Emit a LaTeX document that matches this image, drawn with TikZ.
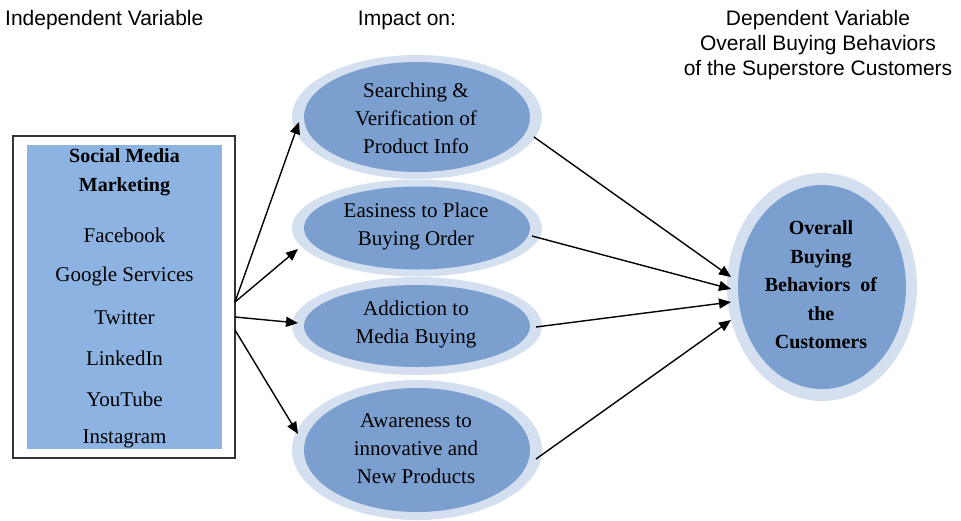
\documentclass[tikz,border=0pt]{standalone}
\usepackage{fontspec}
\setmainfont{Liberation Serif}
\newfontfamily\hdrfont{Liberation Sans}
\usetikzlibrary{shapes.geometric,arrows.meta}
\definecolor{ringc}{HTML}{D4DFEF}
\definecolor{corec}{HTML}{7BA0CF}
\definecolor{listc}{HTML}{8DB3E2}
\begin{document}
\begin{tikzpicture}[x=1pt,y=-1pt,
  ring/.style={ellipse, fill=ringc, inner sep=0},
  core/.style={ellipse, fill=corec, inner sep=0},
  txt/.style={inner sep=0, align=center, font=\fontsize{21}{28}\selectfont},
  btxt/.style={inner sep=0, align=center, font=\bfseries\fontsize{20}{28.5}\selectfont},
  hdr/.style={inner sep=0, align=center, font=\hdrfont\fontsize{21}{25}\selectfont},
  arr/.style={-{Triangle[length=12pt,width=10pt]}, line width=1.4pt}]
\useasboundingbox (0,0) rectangle (961,520);
% headers
\node[hdr, anchor=west] (h1) at (5,20) {Independent Variable};
\node[hdr] (h2) at (407,20) {Impact on:};
\node[hdr] (h3) at (818,45) {Dependent Variable\\Overall Buying Behaviors\\of the Superstore Customers};
% left box
\node[draw=black!80, line width=1.5pt, fill=white, minimum width=222, minimum height=322, inner sep=0] (box) at (124,297) {};
\node[fill=listc, minimum width=195, minimum height=304, inner sep=0] (list) at (124.5,297) {};
\node[btxt, font=\bfseries\fontsize{20}{29}\selectfont] (smm) at (124.5,172) {Social Media\\Marketing};
\node[txt] (fb) at (124.5,235) {Facebook};
\node[txt] (gs) at (124.5,276) {Google Services};
\node[txt] (tw) at (124.5,318) {Twitter};
\node[txt] (li) at (124.5,358) {LinkedIn};
\node[txt] (yt) at (124.5,399) {YouTube};
\node[txt] (ig) at (124.5,439) {Instagram};
% middle ellipses
\node[ring, minimum width=250, minimum height=124] (o1) at (417,117) {};
\node[core, minimum width=226, minimum height=110] (c1) at (417,117) {};
\node[ring, minimum width=250, minimum height=97] (o2) at (417,228) {};
\node[core, minimum width=226, minimum height=83] (c2) at (417,228) {};
\node[ring, minimum width=250, minimum height=98] (o3) at (417,326) {};
\node[core, minimum width=226, minimum height=82] (c3) at (417,326) {};
\node[ring, minimum width=250, minimum height=140] (o4) at (417,450) {};
\node[core, minimum width=226, minimum height=124] (c4) at (417,450) {};
\node[txt] (l1) at (416,118) {Searching \&\\Verification of\\Product Info};
\node[txt] (l2) at (416,226) {Easiness to Place\\Buying Order};
\node[txt] (l3) at (416,324) {Addiction to\\Media Buying};
\node[txt] (l4) at (416,449) {Awareness to\\innovative and\\New Products};
% right ellipse
\node[ring, minimum width=190, minimum height=228] (or) at (822,287) {};
\node[core, minimum width=168, minimum height=204] (cr) at (822,287) {};
\node[btxt] (lr) at (821,285) {Overall\\Buying\\Behaviors\ \ of\\the\\Customers};
% connector points
\coordinate (s1) at (235,302);
\coordinate (s2) at (235,317);
\coordinate (s3) at (235,330);
\coordinate (t1) at (299,122);
\coordinate (t2) at (298,249);
\coordinate (t3) at (298,323);
\coordinate (t4) at (298,434);
\coordinate (u1) at (534,137);
\coordinate (u2) at (532,236);
\coordinate (u3) at (536,327);
\coordinate (u4) at (536,459);
\coordinate (r1) at (731,277);
\coordinate (r2) at (731,289);
\coordinate (r3) at (731,302);
\coordinate (r4) at (731,320);
\draw[arr] (s1) -- (t1);
\draw[arr] (s1) -- (t2);
\draw[arr] (s2) -- (t3);
\draw[arr] (s3) -- (t4);
\draw[arr] (u1) -- (r1);
\draw[arr] (u2) -- (r2);
\draw[arr] (u3) -- (r3);
\draw[arr] (u4) -- (r4);
\end{tikzpicture}
\end{document}
